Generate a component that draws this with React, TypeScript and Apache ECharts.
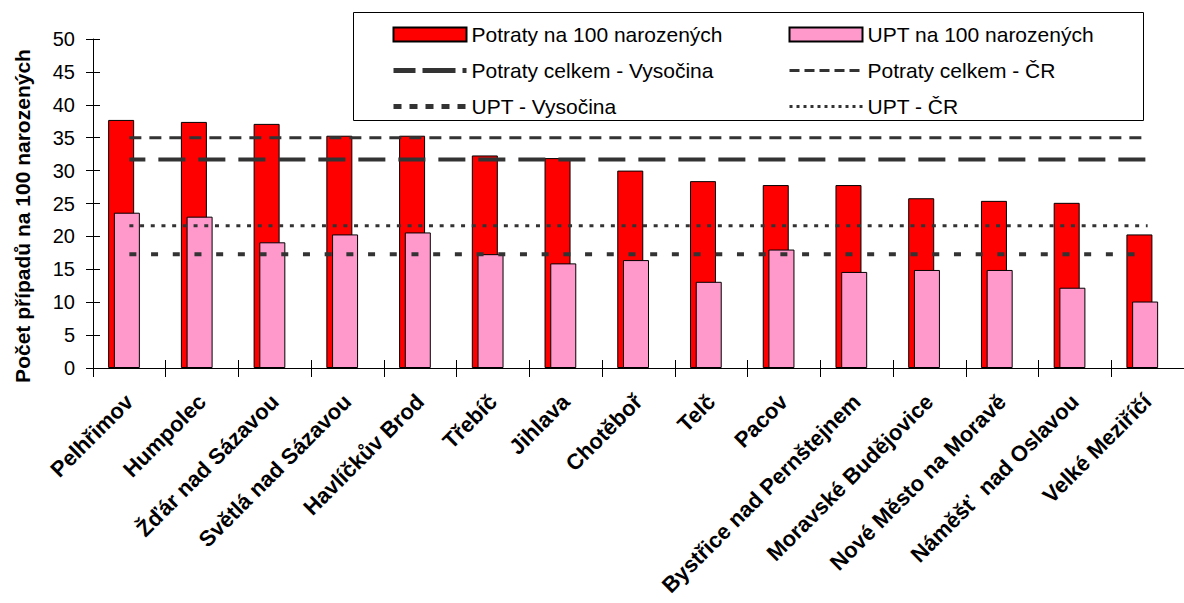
import React, { useEffect, useRef } from "react";
import * as echarts from "echarts";

const categories = [
  "Pelhřimov",
  "Humpolec",
  "Žďár nad Sázavou",
  "Světlá nad Sázavou",
  "Havlíčkův Brod",
  "Třebíč",
  "Jihlava",
  "Chotěboř",
  "Telč",
  "Pacov",
  "Bystřice nad Pernštejnem",
  "Moravské Budějovice",
  "Nové Město na Moravě",
  "Náměšť  nad Oslavou",
  "Velké Meziříčí",
];
const potratyNa100 = [37.7, 37.4, 37.1, 35.3, 35.3, 32.3, 31.9, 30.0, 28.4, 27.8, 27.8, 25.8, 25.4, 25.1, 20.3];
const uptNa100 = [23.6, 23.0, 19.1, 20.3, 20.6, 17.3, 15.9, 16.4, 13.1, 18.0, 14.6, 14.9, 14.9, 12.2, 10.1];
const potratyCelkemVysocina = 31.7;
const potratyCelkemCR = 35.0;
const uptVysocina = 17.3;
const uptCR = 21.6;
const yMin = 0;
const yMax = 50;
const yInterval = 5;

const N1 = "Potraty na 100 narozených";
const N2 = "UPT na 100 narozených";
const N3 = "Potraty celkem - Vysočina";
const N4 = "Potraty celkem - ČR";
const N5 = "UPT - Vysočina";
const N6 = "UPT - ČR";
const YNAME = "Počet případů na 100 narozených";

const FONT = "'Liberation Sans', Arial, sans-serif";
const LINE_COLOR = "#333333";

export default function App() {
  const ref = useRef<HTMLDivElement>(null);
  useEffect(() => {
    if (!ref.current) return;
    const chart = echarts.init(ref.current, null, { renderer: "svg" });
    const legendText = { fontSize: 21, color: "#000", fontFamily: FONT, lineHeight: 20 };
    const hiddenSymbol = { opacity: 0, color: "transparent", borderWidth: 0 };
    const option: any = {
      animation: false,
      textStyle: { fontFamily: FONT },
      grid: { left: 93, top: 39, width: 1098, height: 329, containLabel: false },
      graphic: [
        {
          type: "rect",
          z: 0,
          shape: { x: 353.5, y: 12.5, width: 790, height: 108 },
          style: { fill: "#fff", stroke: "#000", lineWidth: 1 },
        },
        {
          type: "text",
          x: 22,
          y: 216,
          rotation: Math.PI / 2,
          style: {
            text: YNAME,
            fontSize: 21,
            fontWeight: "bold",
            fontFamily: FONT,
            fill: "#000",
            align: "center",
            verticalAlign: "middle",
          },
        },
      ],
      legend: [
        {
          orient: "vertical",
          left: 386,
          top: 19,
          itemWidth: 73,
          itemHeight: 14,
          itemGap: 15,
          textStyle: legendText,
          data: [
            { name: N1, icon: "rect" },
            { name: N3, itemStyle: hiddenSymbol, lineStyle: { type: [33, 7], width: 5, color: LINE_COLOR } },
            { name: N5, itemStyle: hiddenSymbol, lineStyle: { type: [8, 8], width: 5, color: LINE_COLOR } },
          ],
        },
        {
          orient: "vertical",
          left: 783,
          top: 19,
          itemWidth: 73,
          itemHeight: 14,
          itemGap: 15,
          textStyle: legendText,
          data: [
            { name: N2, icon: "rect" },
            { name: N4, itemStyle: hiddenSymbol, lineStyle: { type: [10, 5], width: 3, color: LINE_COLOR } },
            { name: N6, itemStyle: hiddenSymbol, lineStyle: { type: [3, 4], width: 3, color: LINE_COLOR } },
          ],
        },
      ],
      xAxis: [
        {
          type: "category",
          data: categories,
          position: "bottom",
          axisLine: { show: true, lineStyle: { color: "#000", width: 1 } },
          axisTick: { show: true, length: 9, interval: 0, lineStyle: { color: "#000" } },
          axisLabel: {
            interval: 0,
            rotate: 45,
            margin: 30,
            fontSize: 22,
            fontWeight: "bold",
            color: "#000",
            fontFamily: FONT,
          },
          splitLine: { show: false },
        },
        {
          type: "category",
          data: categories,
          position: "bottom",
          axisLine: { show: false },
          axisTick: { show: true, inside: true, length: 8, interval: 0, lineStyle: { color: "#000" } },
          axisLabel: { show: false },
          splitLine: { show: false },
        },
      ],
      yAxis: [
        {
          type: "value",
          min: yMin,
          max: yMax,
          interval: yInterval,
          position: "left",
          axisLine: { show: true, lineStyle: { color: "#000", width: 1 } },
          axisTick: { show: true, length: 7, lineStyle: { color: "#000" } },
          axisLabel: { fontSize: 20, color: "#000", margin: 18, fontFamily: FONT },
          splitLine: { show: false },
        },
        {
          type: "value",
          min: yMin,
          max: yMax,
          interval: yInterval,
          position: "left",
          axisLine: { show: false },
          axisTick: { show: true, inside: true, length: 7, lineStyle: { color: "#000" } },
          axisLabel: { show: false },
          splitLine: { show: false },
        },
      ],
      series: [
        {
          name: N1,
          type: "bar",
          data: potratyNa100,
          barWidth: 26,
          barGap: "-78%",
          z: 2,
          itemStyle: { color: "#FF0000", borderColor: "#000", borderWidth: 1 },
        },
        {
          name: N2,
          type: "bar",
          data: uptNa100,
          barWidth: 26,
          barGap: "-78%",
          z: 2,
          itemStyle: { color: "#FF99CC", borderColor: "#000", borderWidth: 1 },
        },
        {
          name: "spacer",
          type: "bar",
          data: [],
          barWidth: 31,
          barGap: "-78%",
          silent: true,
          itemStyle: { color: "transparent" },
        },
        {
          name: N3,
          type: "line",
          data: categories.map(() => potratyCelkemVysocina),
          symbol: "none",
          z: 3,
          itemStyle: { color: LINE_COLOR },
          lineStyle: { color: LINE_COLOR, width: 4, type: [27, 13], dashOffset: 11 },
        },
        {
          name: N4,
          type: "line",
          data: categories.map(() => potratyCelkemCR),
          symbol: "none",
          z: 3,
          itemStyle: { color: LINE_COLOR },
          lineStyle: { color: LINE_COLOR, width: 3, type: [12, 8] },
        },
        {
          name: N5,
          type: "line",
          data: categories.map(() => uptVysocina),
          symbol: "none",
          z: 3,
          itemStyle: { color: LINE_COLOR },
          lineStyle: { color: LINE_COLOR, width: 4, type: [7, 14.7] },
        },
        {
          name: N6,
          type: "line",
          data: categories.map(() => uptCR),
          symbol: "none",
          z: 3,
          itemStyle: { color: LINE_COLOR },
          lineStyle: { color: LINE_COLOR, width: 3, type: [4, 6.7] },
        },
      ],
    };
    chart.setOption(option);
    return () => chart.dispose();
  }, []);
  return (
    <div
      ref={ref}
      style={{ position: "absolute", left: 0, top: 0, width: 1184, height: 603, background: "#fff" }}
    />
  );
}
